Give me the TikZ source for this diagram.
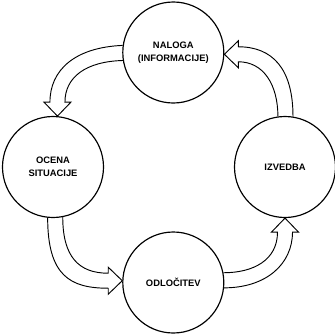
\documentclass[tikz,border=0pt]{standalone}
\usepackage{fontspec}
\setsansfont{Liberation Sans}
\usepackage{tikz}
\usetikzlibrary{calc}

\tikzset{
	krog/.style={circle, draw=black, line width=1pt, fill=white, minimum size=3.03cm, inner sep=0pt, align=center,
		font=\sffamily\bfseries\fontsize{8}{11.4}\selectfont},
	puscica/.style={draw=black, line width=0.8pt, line join=miter}
}

\begin{document}
\begin{tikzpicture}[x=0.03cm,y=-0.03cm]
\useasboundingbox (0,0) rectangle (335,333);
	\node[krog] (nal) at (173.3,52.5) {NALOGA\\(INFORMACIJE)};
	\node[krog] (ocena) at (53,167) {OCENA\\SITUACIJE};
	\node[krog] (izv) at (285,167) {IZVEDBA};
	\node[krog] (odl) at (173.3,282.5) {ODLOČITEV};
	\coordinate (tA) at (ocena.85);
	\coordinate (tB) at (odl.178);
	\coordinate (tC) at (izv.south);
	\coordinate (tD) at (nal.358);
%nalog -> ocena
	\draw[puscica] (nal.172) .. controls +(-48,2) and +(0,-32) .. ([shift={(-7.5,-14)}]tA)
		-- ++(-6,0) -- (tA) -- ([shift={(13.5,-14)}]tA) -- ++(-6,0)
		.. controls +(0,-25) and +(-37,1) .. (nal.189);
%ocena -> odlocitev
	\draw[puscica] (ocena.264) .. controls +(0,58) and +(-38,0) .. ([shift={(-14,7.5)}]tB)
		-- ++(0,6) -- (tB) -- ([shift={(-14,-13.5)}]tB) -- ++(0,6)
		.. controls +(-30,0) and +(0,39) .. (ocena.281);
%odlocitev -> izvedba
	\draw[puscica] (odl.354) .. controls +(42,0) and +(0,32) .. ([shift={(7.5,14)}]tC)
		-- ++(6,0) -- (tC) -- ([shift={(-13.5,14)}]tC) -- ++(6,0)
		.. controls +(0,28) and +(30,0) .. (odl.11);
%izvedba -> naloga
	\draw[puscica] (izv.81) .. controls +(0,-48) and +(34,0) .. ([shift={(14,-7.5)}]tD)
		-- ++(0,-6) -- (tD) -- ([shift={(14,13.5)}]tD) -- ++(0,-6)
		.. controls +(25,0) and +(0,-32) .. (izv.98);
\end{tikzpicture}
\end{document}
